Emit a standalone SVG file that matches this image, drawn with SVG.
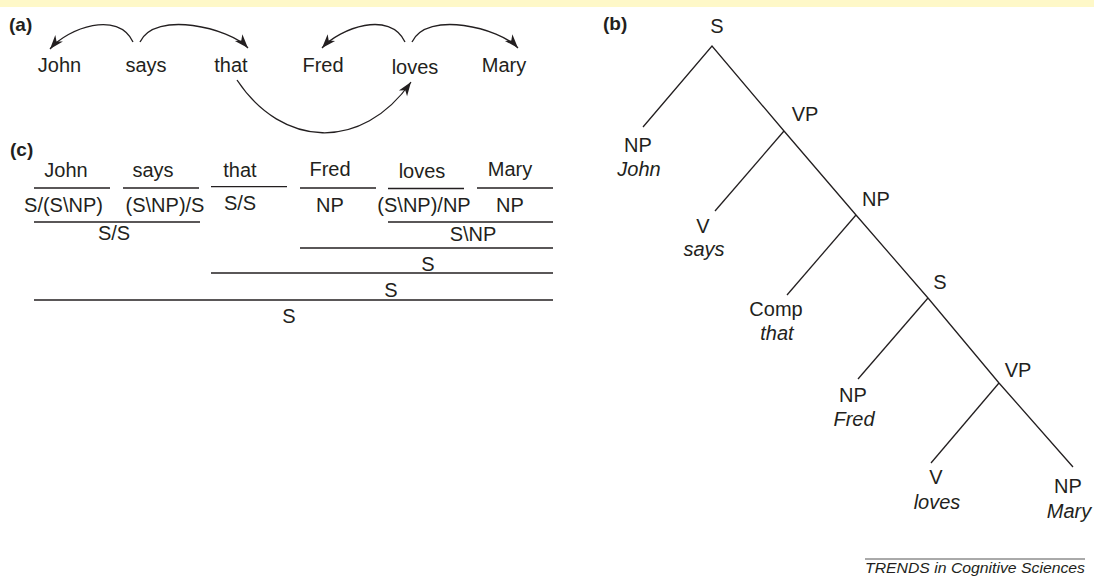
<svg xmlns="http://www.w3.org/2000/svg" width="1094" height="577" viewBox="0 0 1094 577">
<style>
text{font-family:"Liberation Sans",Arial,sans-serif;fill:#231f20;font-size:20px}
.lab{font-weight:bold;font-size:19px}
.it{font-style:italic}
.m{text-anchor:middle}
.ln{stroke:#231f20;stroke-width:1.3;fill:none}
.arc{stroke:#231f20;stroke-width:1.3;fill:none;marker-end:url(#ah)}
.foot{font-size:15px;font-style:italic}
</style>
<defs>
<marker id="ah" markerUnits="userSpaceOnUse" viewBox="-15 -6 16 12" refX="0" refY="0" markerWidth="16" markerHeight="12" orient="auto">
<path d="M0,0 L-14,-5 L-10,0 L-14,5 Z" fill="#231f20"/>
</marker>
</defs>
<rect x="0" y="0" width="1094" height="7" fill="#fef8c8"/>

<g id="panel-a">
<text class="lab" x="9" y="31">(a)</text>
<g id="a-john"><text class="m" x="59.5" y="72">John</text></g>
<g id="a-says"><text class="m" x="146" y="72">says</text></g>
<g id="a-that"><text class="m" x="231" y="72">that</text></g>
<g id="a-fred"><text class="m" x="323" y="72">Fred</text></g>
<g id="a-loves"><text class="m" x="415" y="73.5">loves</text></g>
<g id="a-mary"><text class="m" x="504" y="72">Mary</text></g>
</g>
<g id="a-connectors">
<path class="arc" d="M133,42 C118,10 68,28 50,49"/>
<path class="arc" d="M140,42 C155,10 230,28 248,48"/>
<path class="arc" d="M405,42 C390,10 340,28 322,48"/>
<path class="arc" d="M412,42 C427,10 500,28 518,48"/>
<path class="arc" d="M237,80 C282,148 362,152 411,82"/>
</g>

<g id="panel-c">
<text class="lab" x="10" y="156">(c)</text>
<g id="c-row1">
<text class="m" x="66" y="177">John</text>
<text class="m" x="153" y="177">says</text>
<text class="m" x="240" y="177">that</text>
<text class="m" x="330" y="176">Fred</text>
<text class="m" x="422" y="177.5">loves</text>
<text class="m" x="510" y="176">Mary</text>
</g>
<g id="c-row2">
<text class="m" x="63.5" y="212">S/(S\NP)</text>
<text class="m" x="165" y="212">(S\NP)/S</text>
<text class="m" x="240" y="210">S/S</text>
<text class="m" x="330" y="212">NP</text>
<text class="m" x="424" y="212">(S\NP)/NP</text>
<text class="m" x="510" y="212">NP</text>
</g>
<g id="c-derived">
<text class="m" x="114" y="240">S/S</text>
<text class="m" x="473" y="241">S\NP</text>
<text class="m" x="428" y="271">S</text>
<text class="m" x="391" y="297">S</text>
<text class="m" x="289" y="323">S</text>
</g>
<g id="c-lines">
<line class="ln" x1="34" y1="188" x2="110" y2="188"/>
<line class="ln" x1="123" y1="188" x2="199" y2="188"/>
<line class="ln" x1="211" y1="186.7" x2="287" y2="186.7"/>
<line class="ln" x1="300" y1="188" x2="376" y2="188"/>
<line class="ln" x1="388" y1="188.5" x2="464" y2="188.5"/>
<line class="ln" x1="477" y1="188" x2="553" y2="188"/>
<line class="ln" x1="34" y1="222" x2="200" y2="222"/>
<line class="ln" x1="388" y1="222" x2="553" y2="222"/>
<line class="ln" x1="300" y1="248" x2="553" y2="248"/>
<line class="ln" x1="211" y1="273" x2="553" y2="273"/>
<line class="ln" x1="34" y1="300" x2="553" y2="300"/>
</g>
</g>

<g id="panel-b">
<text class="lab" x="603" y="30">(b)</text>
<g id="b-s1"><text class="m" x="717" y="33">S</text></g>
<g id="b-np-john"><text class="m" x="638" y="152">NP</text><text class="m it" x="639" y="176">John</text></g>
<g id="b-vp1"><text class="m" x="805" y="121">VP</text></g>
<g id="b-v-says"><text class="m" x="703" y="233">V</text><text class="m it" x="704" y="256">says</text></g>
<g id="b-np2"><text class="m" x="876" y="206">NP</text></g>
<g id="b-comp-that"><text class="m" x="776" y="316">Comp</text><text class="m it" x="777" y="340">that</text></g>
<g id="b-s2"><text class="m" x="940" y="289">S</text></g>
<g id="b-np-fred"><text class="m" x="853" y="402">NP</text><text class="m it" x="854" y="426">Fred</text></g>
<g id="b-vp2"><text class="m" x="1018" y="377">VP</text></g>
<g id="b-v-loves"><text class="m" x="936" y="484">V</text><text class="m it" x="937" y="509">loves</text></g>
<g id="b-np-mary"><text class="m" x="1068" y="493">NP</text><text class="m it" x="1069" y="518">Mary</text></g>
</g>
<g id="b-connectors">
<polyline class="ln" points="643,127 712,46 784,131 856,215 928,298 999,383 1073,467"/>
<line class="ln" x1="784" y1="131" x2="715" y2="211"/>
<line class="ln" x1="856" y1="215" x2="787" y2="295"/>
<line class="ln" x1="928" y1="298" x2="858" y2="379"/>
<line class="ln" x1="999" y1="383" x2="931" y2="463"/>
</g>

<g id="footer">
<line x1="865" y1="559" x2="1085" y2="559" stroke="#555" stroke-width="1"/>
<text class="foot" x="865" y="573" textLength="220" lengthAdjust="spacingAndGlyphs">TRENDS in Cognitive Sciences</text>
</g>
</svg>
